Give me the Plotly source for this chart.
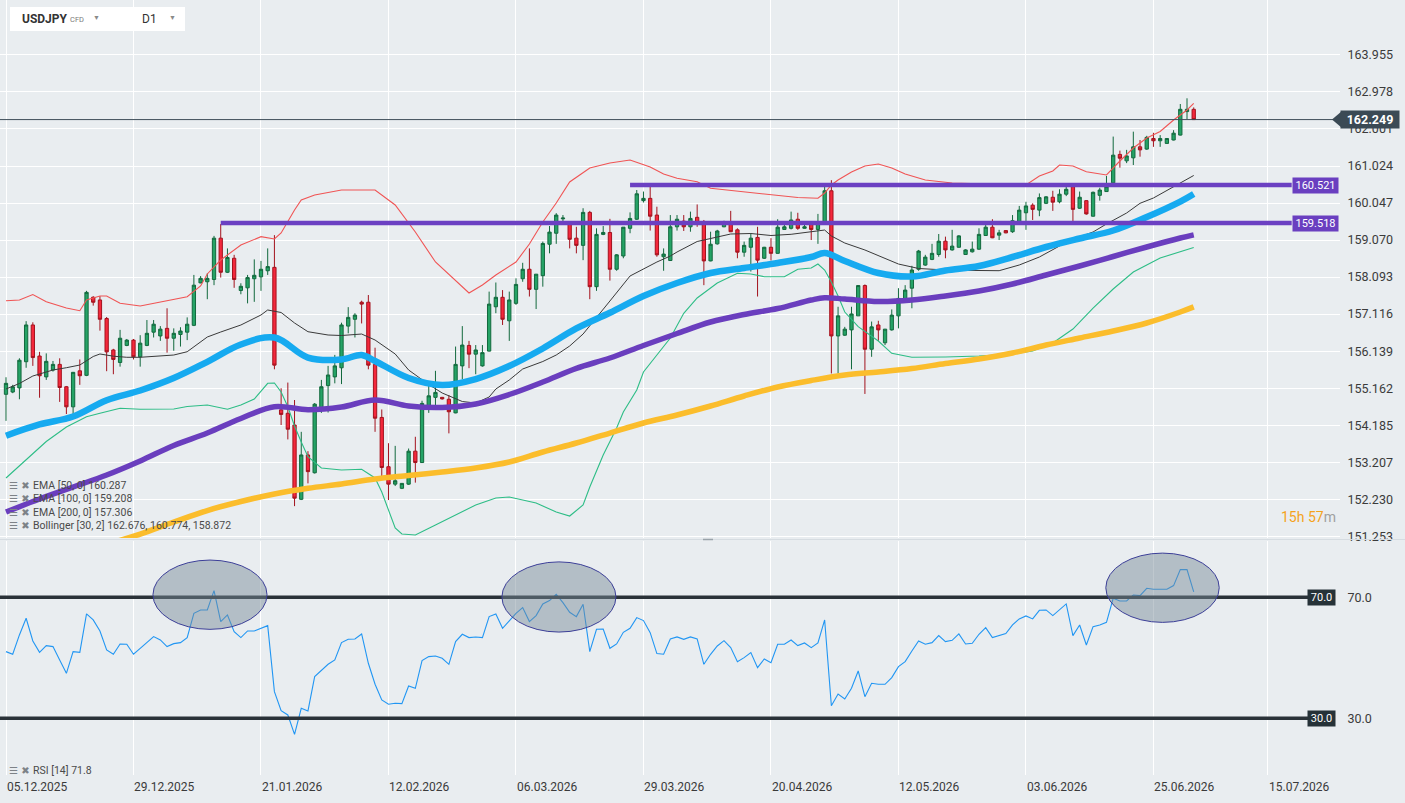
import plotly.graph_objects as go

W, H = 1405, 803

# ---------------- data ----------------
bar_idx = list(range(178))
opens = [155.00,155.06,155.17,155.86,156.83,156.01,155.46,155.64,155.79,155.20,
         154.67,155.62,155.50,157.56,157.49,157.00,156.17,155.84,156.29,156.43,
         155.99,156.29,156.64,156.54,156.74,156.48,156.58,156.64,156.82,157.94,
         157.97,158.03,159.12,158.22,158.59,157.74,157.81,158.05,158.10,158.26,
         158.35,154.59,154.50,154.19,152.23,153.40,152.93,154.59,155.23,155.46,
         155.70,156.80,156.98,157.43,157.43,155.79,154.39,153.09,152.63,152.52,
         152.63,153.50,153.20,154.69,154.92,154.92,154.87,154.51,155.75,156.29,
         156.06,155.75,156.14,157.31,157.56,156.94,157.40,158.05,158.30,157.77,
         158.13,158.96,159.25,159.63,159.54,159.12,158.93,159.80,157.84,159.22,
         159.27,158.30,158.65,159.38,159.62,160.11,160.17,159.73,158.63,158.53,
         159.42,159.57,159.42,159.67,159.53,158.52,158.97,159.42,159.55,159.34,
         158.75,158.88,159.14,158.59,158.88,158.72,159.35,159.38,159.62,159.38,
         159.53,159.35,159.53,160.37,156.54,156.56,156.70,157.07,157.87,156.19,
         156.83,156.36,156.70,157.07,157.51,157.80,158.30,158.41,158.56,158.69,
         159.04,158.81,158.88,158.69,158.76,158.83,159.19,159.41,159.20,159.32,
         159.29,159.55,159.79,159.99,159.86,160.04,160.20,160.08,160.28,160.48,
         159.91,160.11,159.70,160.25,160.35,160.58,161.33,161.16,161.24,161.53,
         161.47,161.75,161.69,161.62,161.71,161.84,162.46,162.52]
highs = [155.45,155.25,155.95,156.93,156.90,156.12,156.08,155.88,155.95,155.22,
         155.59,155.92,157.73,157.59,157.59,157.04,156.20,156.70,156.46,156.46,
         156.56,156.96,156.96,156.80,157.27,156.74,156.77,157.03,158.15,158.12,
         158.19,159.18,159.49,158.85,158.68,157.93,158.15,158.56,158.52,158.85,
         159.20,155.16,155.31,154.85,154.01,153.50,154.77,155.38,155.75,156.04,
         156.89,157.30,157.14,157.47,157.62,156.23,154.60,153.71,153.64,152.66,
         153.57,153.88,154.83,155.22,155.62,154.93,154.98,156.26,156.80,156.41,
         156.30,156.30,157.71,157.95,157.75,157.71,158.06,158.47,158.85,158.17,
         159.03,159.44,159.78,159.73,159.57,159.42,159.91,159.84,159.38,159.44,
         159.63,158.70,159.41,159.80,160.39,160.35,160.48,159.95,158.85,159.73,
         159.73,159.73,159.82,160.01,159.60,159.29,159.34,159.58,159.84,159.38,
         159.03,159.25,159.42,158.89,159.12,159.62,159.55,159.82,159.79,159.53,
         159.57,159.76,160.52,160.65,157.31,156.78,157.31,157.88,157.90,156.92,
         156.94,156.72,157.24,157.80,157.88,158.39,158.81,158.68,158.97,159.23,
         159.16,159.34,159.20,158.83,159.03,159.38,159.55,159.62,159.34,159.33,
         159.73,159.97,160.08,160.04,160.30,160.23,160.37,160.41,160.52,160.57,
         160.35,160.12,160.35,160.45,160.76,161.80,161.43,161.45,161.93,161.71,
         161.82,161.90,161.84,161.76,161.97,162.66,162.81,162.57]
lows = [154.30,155.03,154.87,155.70,155.75,154.91,155.38,155.60,154.80,154.48,
        154.48,155.25,155.48,157.34,156.68,155.61,155.53,155.73,156.27,155.92,
        155.73,156.27,156.50,156.41,156.10,156.15,156.26,156.43,156.80,157.93,
        157.51,157.88,158.08,158.20,157.81,157.64,157.40,157.44,157.73,158.15,
        155.66,154.19,153.81,152.05,152.21,152.65,152.91,154.51,154.52,155.29,
        155.27,156.61,156.50,156.87,155.66,154.01,152.83,152.21,152.58,152.50,
        152.61,152.67,153.19,154.51,154.66,154.86,153.97,154.50,155.40,155.69,
        155.53,155.73,156.13,157.14,156.83,156.41,157.36,157.97,157.58,157.25,
        157.84,158.72,158.97,159.51,158.85,158.72,158.54,157.51,157.73,159.20,
        158.00,158.26,158.59,159.25,159.60,160.06,159.32,158.63,158.26,158.52,
        159.32,159.31,159.29,159.42,157.88,158.51,158.95,159.41,159.28,158.59,
        158.63,158.24,157.58,158.57,158.53,158.71,159.34,159.35,159.34,159.37,
        159.07,158.97,159.52,155.55,155.55,156.54,155.66,157.07,155.01,155.99,
        156.41,156.30,156.68,156.74,157.49,157.27,158.26,158.39,158.54,158.63,
        158.59,158.79,158.87,158.69,158.74,158.81,159.18,159.12,159.07,159.25,
        159.26,159.51,159.34,159.60,159.70,160.02,159.84,160.04,160.23,159.53,
        159.89,159.74,159.69,160.11,160.34,160.52,160.98,161.10,161.05,161.27,
        161.45,161.53,161.53,161.62,161.70,161.83,162.26,162.24]
closes = [155.29,155.20,155.90,156.83,155.97,155.49,155.87,155.79,155.18,154.67,
          155.58,155.49,157.69,157.43,156.98,156.12,155.92,156.48,156.43,155.99,
          156.35,156.61,156.85,156.72,156.48,156.61,156.67,156.85,157.88,158.06,
          158.06,159.12,158.22,158.61,158.03,157.85,158.08,158.14,158.30,158.37,
          155.77,154.47,154.08,152.26,153.40,152.96,154.74,155.20,155.51,155.75,
          156.83,157.03,157.09,157.38,155.77,154.37,153.07,152.63,152.72,152.65,
          153.50,153.20,154.76,154.96,155.05,154.88,154.54,155.79,156.30,156.06,
          156.17,156.10,157.38,157.56,156.98,157.49,157.90,158.30,157.77,158.17,
          158.98,159.28,159.73,159.65,159.09,158.93,159.80,157.84,159.22,159.27,
          158.30,158.68,159.41,159.64,160.29,160.17,159.70,158.68,158.70,159.42,
          159.62,159.42,159.64,159.51,158.52,158.96,159.31,159.55,159.29,158.75,
          158.93,159.12,158.54,158.88,158.72,159.41,159.42,159.60,159.38,159.42,
          159.35,159.53,160.37,156.54,157.07,156.72,157.12,157.87,156.19,156.78,
          156.70,156.72,157.09,157.53,157.75,158.28,158.78,158.62,158.72,159.04,
          158.81,158.91,159.18,158.81,158.83,159.22,159.41,159.13,159.26,159.26,
          159.58,159.86,159.97,159.88,160.19,160.21,160.07,160.28,160.41,159.88,
          160.20,159.76,160.33,160.39,160.48,161.31,161.23,161.29,161.53,161.45,
          161.78,161.69,161.75,161.75,161.89,162.52,162.52,162.249]

rsi_vals = [52.04,51.16,57.55,63.06,55.56,51.82,54.02,53.69,49.28,44.87,
            52.04,51.82,64.49,62.51,58.87,52.59,51.16,54.57,54.46,51.16,
            53.14,55.12,57.00,55.89,53.69,54.68,55.01,56.67,64.71,65.81,
            65.81,72.20,61.96,64.16,58.65,56.67,58.87,58.87,59.75,60.63,
            38.81,32.53,31.10,24.71,33.30,32.42,43.77,45.98,47.85,49.28,
            55.01,56.11,56.22,57.88,48.18,41.24,36.06,34.63,34.96,34.85,
            40.69,39.92,49.06,50.38,50.60,49.83,47.85,55.34,57.77,56.67,
            56.89,56.67,63.61,64.49,59.75,62.18,64.71,66.58,61.96,63.94,
            67.80,68.90,70.99,68.24,65.04,63.61,67.69,52.04,59.42,59.53,
            53.14,54.57,58.43,59.75,63.28,62.29,58.32,51.38,51.16,56.22,
            56.89,56.11,56.89,56.22,47.85,51.16,53.91,55.67,53.36,48.73,
            50.05,51.71,46.75,49.61,48.40,54.46,54.46,55.89,54.02,54.90,
            53.36,54.90,62.51,34.18,38.04,36.39,39.92,45.65,37.16,41.57,
            41.24,41.24,43.44,47.08,48.73,52.26,55.56,54.46,55.01,57.33,
            55.34,55.78,57.88,54.57,54.79,57.77,59.97,56.67,57.33,57.99,
            60.85,62.84,63.83,62.84,65.70,65.81,63.94,66.03,67.80,57.33,
            60.85,54.24,60.30,60.85,61.73,69.67,68.79,68.79,70.77,70.55,
            72.98,72.64,72.64,72.64,73.86,79.15,79.15,71.80]

ema50_idx = [0,5,10,15,20,25,30,35,40,45,50,53,55,60,65,70,75,80,85,90,95,100,105,110,115,
             120,122,125,130,135,140,145,150,155,160,165,170,175,177]
ema50_val = [153.908,154.204,154.415,154.845,155.101,155.430,155.858,156.314,156.499,155.971,
             155.919,156.037,155.879,155.431,155.246,155.404,155.747,156.209,156.737,157.151,
             157.594,157.937,158.201,158.333,158.465,158.623,158.729,158.518,158.201,158.109,
             158.267,158.386,158.623,158.887,159.111,159.322,159.679,160.087,160.287]

ema100_idx = [0,5,10,15,20,25,30,35,40,45,50,55,60,65,70,75,80,85,90,95,100,105,110,115,
              120,122,125,130,135,140,145,150,155,160,165,170,175,177]
ema100_val = [151.895,152.238,152.555,152.871,153.241,153.650,153.979,154.362,154.673,154.594,
              154.665,154.850,154.692,154.652,154.744,154.995,155.325,155.686,155.958,156.288,
              156.605,156.908,157.106,157.264,157.488,157.549,157.515,157.449,157.488,157.594,
              157.726,157.911,158.148,158.386,158.636,158.887,159.124,159.208]

ema200_idx = [0,5,10,15,20,25,30,35,40,45,50,55,60,65,70,75,80,85,90,95,100,105,110,115,
              120,125,130,135,140,145,150,155,160,165,170,175,177]
ema200_val = [150.206,150.496,150.760,151.037,151.314,151.631,151.934,152.172,152.370,152.520,
              152.634,152.766,152.858,152.950,153.056,153.214,153.478,153.715,153.979,154.243,
              154.454,154.692,154.956,155.193,155.365,155.510,155.589,155.681,155.813,155.932,
              156.090,156.301,156.486,156.671,156.882,157.172,157.306]

bb_up_idx = [0,2,4,6,9,11,12,14,15,17,20,23,25,27,29,30,32,35,38,40,
             41,42,43,44,46,50,55,58,61,64,67,69,71,73,76,78,80,82,84,87,
             90,93,96,98,100,103,105,108,113,118,121,122,123,124,126,128,130,132,134,137,
             141,146,150,152,154,156,157,159,161,164,166,168,170,172,174,176,177]
bb_up_val = [157.470,157.488,157.634,157.444,157.277,157.206,157.488,157.594,157.594,157.401,
             157.330,157.444,157.507,157.576,157.858,158.175,158.544,158.940,159.159,159.098,
             159.256,159.573,159.863,160.127,160.259,160.391,160.391,159.995,159.283,158.491,
             157.990,157.673,157.884,158.148,158.491,158.966,159.547,160.048,160.602,160.971,
             161.103,161.182,160.998,160.813,160.700,160.610,160.436,160.378,160.277,160.193,
             160.172,160.312,160.523,160.655,160.866,161.024,161.077,160.971,160.813,160.655,
             160.576,160.549,160.523,160.523,160.760,160.892,161.050,161.024,160.874,160.787,
             161.156,161.499,161.763,161.934,162.238,162.502,162.676]

bb_mid_idx = [0,2,4,7,9,11,13,14,16,18,20,23,25,27,30,32,35,38,39,41,
              43,45,48,50,53,55,58,60,63,65,68,70,72,73,75,77,80,82,84,86,
              88,90,93,95,97,99,100,103,105,108,111,114,117,121,122,123,125,128,130,133,
              136,140,145,148,151,154,157,159,162,164,167,169,171,174,177]
bb_mid_val = [155.140,155.286,155.483,155.642,155.702,155.773,155.998,156.064,156.006,155.977,
              155.977,156.011,156.037,156.124,156.512,156.644,156.829,157.093,157.225,157.159,
              156.882,156.652,156.565,156.552,156.591,156.433,156.064,155.642,155.259,155.035,
              154.810,154.771,154.929,155.140,155.378,155.668,155.866,156.037,156.275,156.591,
              157.014,157.462,158.122,158.306,158.491,158.649,158.755,159.032,159.117,159.230,
              159.243,159.190,159.222,159.322,159.335,159.177,158.992,158.808,158.663,158.438,
              158.320,158.280,158.267,158.262,158.412,158.623,158.913,159.090,159.283,159.494,
              159.784,160.040,160.180,160.483,160.774]

bb_low_idx = [0,3,6,9,12,14,17,20,25,27,30,33,35,37,39,40,41,42,43,44,
              45,47,50,53,55,56,57,58,59,61,64,67,70,73,75,79,82,84,86,87,
              89,91,92,94,95,97,99,101,103,106,109,111,113,116,118,120,121,122,123,124,
              125,127,130,132,135,140,145,150,153,156,159,162,165,168,172,177]
bb_low_val = [152.792,153.267,153.755,154.138,154.409,154.499,154.631,154.605,154.613,154.678,
              154.718,154.605,154.718,154.876,155.291,155.299,155.061,154.673,154.164,153.742,
              153.354,153.056,153.003,153.021,152.792,152.423,151.948,151.473,151.314,151.288,
              151.552,151.816,152.080,152.264,152.291,152.132,151.895,151.789,152.080,152.555,
              153.399,154.111,154.533,155.114,155.589,156.037,156.486,157.138,157.541,157.937,
              158.193,158.175,158.103,158.103,158.299,158.333,158.438,158.280,157.963,157.594,
              157.172,156.784,156.407,156.082,155.977,155.985,156.011,156.064,156.143,156.354,
              156.723,157.277,157.779,158.227,158.597,158.872]

date_labels = ["05.12.2025", "29.12.2025", "21.01.2026", "12.02.2026", "06.03.2026", "29.03.2026",
               "20.04.2026", "12.05.2026", "03.06.2026", "25.06.2026", "15.07.2026"]
date_bars = [0, 19, 38, 57, 76, 95, 114, 133, 152, 171, 188]

price_ticks = [151.253, 152.230, 153.207, 154.185, 155.162, 156.139, 157.116,
               158.093, 159.070, 160.047, 161.024, 162.001, 162.978, 163.955]

levels = [160.521, 159.518]
level_start_bars = [93, 32]
rsi_levels = [70, 30]

# RSI highlight zones: (first bar, last bar, low RSI, high RSI)
rsi_zones = [(21.9, 38.9, 59.4, 82.3), (73.9, 90.9, 58.5, 81.7), (163.9, 180.8, 61.7, 84.6)]

legend_lines = ["EMA [50, 0] 160.287", "EMA [100, 0] 159.208", "EMA [200, 0] 157.306",
                "Bollinger [30, 2] 162.676, 160.774, 158.872"]
rsi_legend = "RSI [14] 71.8"

# ---------------- geometry ----------------
X_RANGE = [-0.894, 198.8]
Y_RANGE = [151.209, 165.404]
RSI_RANGE = [11.26, 88.6]
PLOT_RIGHT = 1340
MAIN_BOT = 538
RSI_TOP, RSI_BOT = 541, 775
LEVEL_END_BAR = 191.6


def px(x):
    return x / W


def py(y):
    return 1 - y / H


def price_to_pix(p):
    return (Y_RANGE[1] - p) / (Y_RANGE[1] - Y_RANGE[0]) * MAIN_BOT


FONT = "Roboto, Arial, sans-serif"
BG = "#e9edf0"

fig = go.Figure()

# Bollinger bands
fig.add_trace(go.Scatter(x=bb_up_idx, y=bb_up_val, mode="lines",
                         line=dict(color="#f05454", width=1.1), hoverinfo="skip"))
fig.add_trace(go.Scatter(x=bb_mid_idx, y=bb_mid_val, mode="lines",
                         line=dict(color="#3a3a3a", width=1), hoverinfo="skip"))
fig.add_trace(go.Scatter(x=bb_low_idx, y=bb_low_val, mode="lines",
                         line=dict(color="#2dbd86", width=1.1), hoverinfo="skip"))

# EMAs
fig.add_trace(go.Scatter(x=ema200_idx, y=ema200_val, mode="lines", line_shape="spline",
                         line=dict(color="#fbbd2c", width=5.5), hoverinfo="skip"))
fig.add_trace(go.Scatter(x=ema100_idx, y=ema100_val, mode="lines", line_shape="spline",
                         line=dict(color="#6a3ebe", width=5.5), hoverinfo="skip"))
fig.add_trace(go.Scatter(x=ema50_idx, y=ema50_val, mode="lines", line_shape="spline",
                         line=dict(color="#16aaf0", width=6.5), hoverinfo="skip"))

# Candles
fig.add_trace(go.Candlestick(
    x=bar_idx, open=opens, high=highs, low=lows, close=closes,
    increasing=dict(line=dict(color="#12693d", width=1), fillcolor="#25a366"),
    decreasing=dict(line=dict(color="#a3121d", width=1), fillcolor="#f4283c"),
    whiskerwidth=0, hoverinfo="skip"))

# horizontal resistance levels
for lvl, start in zip(levels, level_start_bars):
    fig.add_trace(go.Scatter(x=[start, LEVEL_END_BAR], y=[lvl, lvl], mode="lines",
                             line=dict(color="#6b40c2", width=4.5), hoverinfo="skip"))

# RSI
fig.add_trace(go.Scatter(x=bar_idx, y=rsi_vals, mode="lines", yaxis="y2",
                         line=dict(color="#2196f3", width=1.1), hoverinfo="skip"))

shapes = []
annotations = []

last_price = closes[-1]
# current price line
shapes.append(dict(type="line", xref="paper", yref="y", x0=0, x1=px(1338), y0=last_price,
                   y1=last_price, line=dict(color="#3d4d58", width=1), layer="above"))
# price tag arrow
yp = price_to_pix(last_price)
shapes.append(dict(type="path", xref="paper", yref="paper",
                   path=f"M {px(1332)},{py(yp)} L {px(1342)},{py(yp-8.5)} L {px(1342)},{py(yp+8.5)} Z",
                   fillcolor="#3b4a55", line=dict(width=0), layer="above"))
annotations.append(dict(x=px(1370), xref="paper", y=last_price, yref="y", xanchor="center",
                        yanchor="middle", text=f"<b>{last_price:.3f}</b>", showarrow=False,
                        bgcolor="#3b4a55", width=58, height=17, borderpad=0,
                        font=dict(color="white", size=12.5, family=FONT)))

# level tags
for lvl in levels:
    annotations.append(dict(x=px(1315), xref="paper", y=lvl, yref="y", xanchor="center",
                            yanchor="middle", text=f"{lvl:.3f}",
                            showarrow=False, bgcolor="#6a3fc0", width=45, height=15, borderpad=0,
                            font=dict(color="white", size=11, family=FONT)))

# RSI levels
for lvl in rsi_levels:
    shapes.append(dict(type="line", xref="paper", yref="y2", x0=0, x1=px(1308), y0=lvl, y1=lvl,
                       line=dict(color="#2a3238", width=3.5), layer="above"))
    annotations.append(dict(x=px(1321.5), xref="paper", y=lvl, yref="y2", xanchor="center",
                            yanchor="middle", text=f"{lvl:.1f}",
                            showarrow=False, bgcolor="#263238", width=27, height=15, borderpad=0,
                            font=dict(color="white", size=11, family=FONT)))

# RSI highlight ellipses
for x0, x1, y0, y1 in rsi_zones:
    shapes.append(dict(type="circle", xref="x", yref="y2", x0=x0, x1=x1, y0=y0, y1=y1,
                       fillcolor="rgba(118,138,150,0.47)", line=dict(color="#3c3f98", width=1),
                       layer="above"))

# panel separator + handle
shapes.append(dict(type="line", xref="paper", yref="paper", x0=0, x1=1, y0=py(539.5), y1=py(539.5),
                   line=dict(color="#d6dce1", width=1)))
shapes.append(dict(type="line", xref="paper", yref="paper", x0=px(703), x1=px(713), y0=py(539.5),
                   y1=py(539.5), line=dict(color="#9aa3aa", width=1.5)))

# header box
shapes.append(dict(type="rect", xref="paper", yref="paper", x0=px(10), x1=px(185), y0=py(31), y1=py(7),
                   fillcolor="white", line=dict(width=0), layer="above"))
annotations += [
    dict(x=px(20), y=py(19), xref="paper", yref="paper", text="<b>USDJPY</b>", showarrow=False,
         xanchor="left", yanchor="middle", font=dict(size=12, color="#333333", family=FONT)),
    dict(x=px(68), y=py(19.5), xref="paper", yref="paper", text="CFD", showarrow=False,
         xanchor="left", yanchor="middle", font=dict(size=7.5, color="#7a7a7a", family=FONT)),
    dict(x=px(96), y=py(18), xref="paper", yref="paper", text="▼", showarrow=False,
         xanchor="center", yanchor="middle", font=dict(size=7, color="#8a8a8a", family=FONT)),
    dict(x=px(140), y=py(19), xref="paper", yref="paper", text="D1", showarrow=False,
         xanchor="left", yanchor="middle", font=dict(size=12, color="#333333", family=FONT)),
    dict(x=px(172), y=py(18), xref="paper", yref="paper", text="▼", showarrow=False,
         xanchor="center", yanchor="middle", font=dict(size=7, color="#8a8a8a", family=FONT)),
]

# indicator legend
legend_y = [485, 498.5, 512, 525.5]
for txt, yy in zip(legend_lines, legend_y):
    annotations.append(dict(x=px(7), y=py(yy), xref="paper", yref="paper", text="☰ ✖",
                            showarrow=False, xanchor="left", yanchor="middle",
                            font=dict(size=10, color="#7d8287", family="DejaVu Sans")))
    annotations.append(dict(x=px(31), y=py(yy), xref="paper", yref="paper", text=txt,
                            showarrow=False, xanchor="left", yanchor="middle",
                            font=dict(size=10.5, color="#4a4a4a", family=FONT)))
annotations.append(dict(x=px(7), y=py(770), xref="paper", yref="paper", text="☰ ✖",
                        showarrow=False, xanchor="left", yanchor="middle",
                        font=dict(size=10, color="#7d8287", family="DejaVu Sans")))
annotations.append(dict(x=px(31), y=py(770), xref="paper", yref="paper", text=rsi_legend,
                        showarrow=False, xanchor="left", yanchor="middle",
                        font=dict(size=10.5, color="#4a4a4a", family=FONT)))

# countdown
annotations.append(dict(x=px(1338), y=py(517), xref="paper", yref="paper",
                        text="<span style='color:#f5a21b'>15</span><span style='color:#f5a21b'>h</span> "
                             "<span style='color:#f5a21b'>57</span><span style='color:#a0a0a0'>m</span>",
                        showarrow=False, xanchor="right", yanchor="middle",
                        font=dict(size=14, family=FONT)))

# date labels (left-aligned at their grid line)
for b, lab in zip(date_bars, date_labels):
    annotations.append(dict(x=b, xref="x", y=py(787), yref="paper", text=lab, showarrow=False,
                            xanchor="left", yanchor="middle", xshift=-1,
                            font=dict(size=12, color="#3a3a3a", family=FONT)))

fig.update_layout(
    width=W, height=H,
    margin=dict(l=0, r=0, t=0, b=0, pad=0),
    paper_bgcolor=BG, plot_bgcolor=BG,
    showlegend=False,
    font=dict(family=FONT),
    xaxis=dict(domain=[0, px(PLOT_RIGHT)], range=X_RANGE, anchor="y2",
               tickvals=date_bars, showticklabels=False, showgrid=True,
               gridcolor="white", gridwidth=1, zeroline=False, showline=False,
               rangeslider=dict(visible=False), automargin=False),
    yaxis=dict(domain=[py(MAIN_BOT), 1], range=Y_RANGE, side="right", anchor="x",
               tickvals=price_ticks, ticktext=[f"{v:.3f}" for v in price_ticks],
               showgrid=True, gridcolor="white", gridwidth=1, zeroline=False, showline=False,
               ticks="outside", ticklen=4, tickcolor="rgba(0,0,0,0)",
               tickfont=dict(size=12.5, color="#3b3b3b", family=FONT), automargin=False),
    yaxis2=dict(domain=[py(RSI_BOT), py(RSI_TOP)], range=RSI_RANGE, side="right", anchor="x",
                tickvals=rsi_levels, ticktext=[f"{v:.1f}" for v in rsi_levels],
                showgrid=False, zeroline=False, showline=False,
                ticks="outside", ticklen=4, tickcolor="rgba(0,0,0,0)",
                tickfont=dict(size=12.5, color="#3b3b3b", family=FONT), automargin=False),
    shapes=shapes,
    annotations=annotations,
)

fig.write_html("out.html", config={"displayModeBar": False})
